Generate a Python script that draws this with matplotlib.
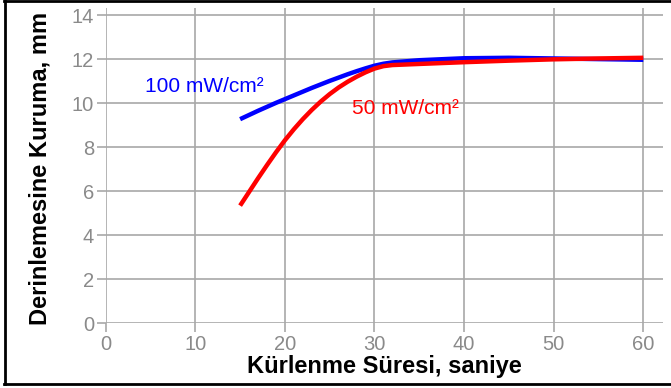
import matplotlib
matplotlib.use("Agg")
import matplotlib.pyplot as plt
from matplotlib.lines import Line2D

plt.rcParams['font.family'] = ['Liberation Sans', 'DejaVu Sans']

# Data
t_100 = [15, 16, 17, 18, 19, 20, 21, 22, 23, 24, 25, 26, 27, 28, 29, 30, 31, 32, 35, 40, 45, 50, 55, 60]
d_100 = [9.28, 9.47, 9.66, 9.84, 10.02, 10.19, 10.36, 10.53, 10.70, 10.86, 11.02, 11.17, 11.32, 11.46, 11.59, 11.71,
         11.80, 11.86, 11.96, 12.05, 12.07, 12.04, 12.01, 11.98]

t_50 = [15, 16, 17, 18, 19, 20, 21, 22, 23, 24, 25, 26, 27, 28, 29, 30, 31, 32, 35, 40, 45, 50, 55, 60]
d_50 = [5.35, 5.97, 6.59, 7.19, 7.77, 8.32, 8.82, 9.28, 9.70, 10.08, 10.42, 10.72, 10.98, 11.21, 11.41, 11.58,
        11.69, 11.74, 11.79, 11.87, 11.94, 12.00, 12.04, 12.07]

x_ticks = [0, 10, 20, 30, 40, 50, 60]
y_ticks = [0, 2, 4, 6, 8, 10, 12, 14]
label_100 = "100 mW/cm²"
label_50 = "50 mW/cm²"
x_label = "Kürlenme Süresi, saniye"
y_label = "Derinlemesine Kuruma, mm"

W, H = 671, 388
fig = plt.figure(figsize=(W / 100, H / 100), dpi=100)
ax = fig.add_axes([105.7 / W, (H - 323.3) / H, (663 - 105.7) / W, (323.3 - 8.3) / H])

ax.set_xlim(0, 62.2)
ax.set_ylim(0, 14.32)
ax.set_xticks(x_ticks)
ax.set_yticks(y_ticks)

gc = '#a8a8a8'
ax.grid(True, color=gc, linewidth=1.2)
for s in ax.spines.values():
    s.set_visible(False)
ax.tick_params(axis='both', direction='out', length=6.5, width=1.2, color=gc,
               labelcolor='#8a8a8a', labelsize=14.5, pad=2)
ax.set_axisbelow(True)

ax.plot(t_50, d_50, color='#ff0000', linewidth=3.2, solid_capstyle='butt', zorder=3)
ax.plot(t_100, d_100, color='#0000ff', linewidth=3.2, solid_capstyle='butt', zorder=2)

ax.text(4.4, 10.75, label_100, color='#0000ff', fontsize=15, va='center', ha='left')
ax.text(27.45, 9.75, label_50, color='#ff0000', fontsize=15, va='center', ha='left')

fig.text(384.5 / W, 1 - 366 / H, x_label, fontsize=17, fontweight='bold', ha='center', va='center')
fig.text(40 / W, 1 - 168 / H, y_label, fontsize=17, fontweight='bold', ha='center', va='center', rotation=90)

# outer frame (top, left, bottom)
lw = 2
fig.add_artist(Line2D([5 / W, 5 / W], [1 - 384 / H, 1 - 1 / H], color='black', linewidth=lw, transform=fig.transFigure))
fig.add_artist(Line2D([4 / W, 1], [1 - 1 / H, 1 - 1 / H], color='black', linewidth=lw, transform=fig.transFigure))
fig.add_artist(Line2D([4 / W, 1], [1 - 384 / H, 1 - 384 / H], color='black', linewidth=lw, transform=fig.transFigure))

fig.savefig('out.png', dpi=100)
